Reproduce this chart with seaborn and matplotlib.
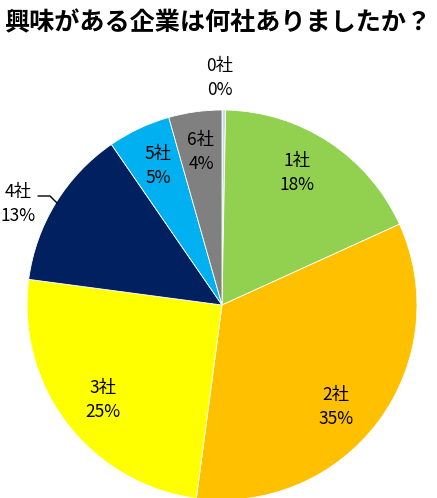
import matplotlib
matplotlib.use("Agg")
import matplotlib.pyplot as plt
import seaborn as sns

sns.set_style("white")
plt.rcParams['font.family'] = ['Noto Sans CJK JP', 'DejaVu Sans']

# Data (slice sizes; label texts as printed)
categories = ["0社", "1社", "2社", "3社", "4社", "5社", "6社"]
values = [0.3, 17.9, 33.9, 25.0, 13.3, 5.2, 4.4]
pct_labels = ["0%", "18%", "35%", "25%", "13%", "5%", "4%"]
colors = ["#C9DDE8", "#92D050", "#FFC000", "#FFFF00", "#002060", "#00B0F0", "#808080"]
title = "興味がある企業は何社ありましたか？"

W, H = 437, 498
fig = plt.figure(figsize=(W / 100, H / 100), dpi=100)
ax = fig.add_axes([0, 0, 1, 1])

cx, cy, R = 222, 305, 195  # pixel geometry of the pie
ax.pie(values, colors=colors, startangle=90, counterclock=False,
       radius=1, center=(0, 0),
       wedgeprops=dict(edgecolor="white", linewidth=0.6))
ax.set_xlim(-cx / R, (W - cx) / R)
ax.set_ylim(-(H - cy) / R, cy / R)
ax.set_aspect("auto")
ax.axis("off")

def px(x, y):
    return ((x - cx) / R, (cy - y) / R)

# label positions (pixel centers of the two-line labels)
label_pos = [(220, 78), (297, 173), (336, 407), (103, 400), (18, 204), (158, 166), (201, 152)]
for cat, pct, (x, y) in zip(categories, pct_labels, label_pos):
    tx, ty = px(x, y)
    ax.text(tx, ty, f"{cat}\n{pct}", ha="center", va="center",
            fontsize=12.5, color="black", linespacing=1.42)

# leader line for 4社
pts = [px(38, 196), px(50, 196), px(57, 203)]
ax.plot([p[0] for p in pts], [p[1] for p in pts], color="black", linewidth=1)

fig.text(0.5, 1 - 23 / H, title, ha="center", va="center",
         fontsize=18.1, fontweight="bold", color="black")

fig.savefig("out.png", dpi=100)
